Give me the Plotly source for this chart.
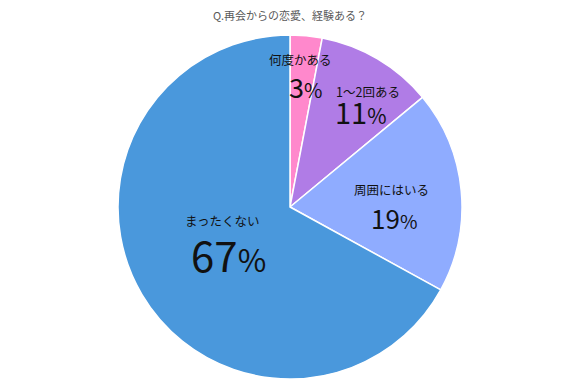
import plotly.graph_objects as go

categories = ["何度かある", "1～2回ある", "周囲にはいる", "まったくない"]
values = [3, 11, 19, 67]
colors = ["#FF88CC", "#B07CE6", "#8FACFF", "#4A98DC"]
title = "Q.再会からの恋愛、経験ある？"

# page has an 8px body margin; size the figure so it fits the 580x388 window
OFF = 8
W, H = 580 - OFF, 388 - OFF
T, B, L, R = 35 - OFF, 9, 0, 8

fig = go.Figure(go.Pie(
    labels=categories, values=values, sort=False, direction="clockwise", rotation=0,
    marker=dict(colors=colors, line=dict(color="white", width=1.5)),
    textinfo="none", hoverinfo="label+percent", showlegend=False,
))

def px(x, y):
    # reference window pixel -> paper coords
    x -= OFF
    y -= OFF
    return (x - L) / (W - L - R), (H - B - y) / (H - T - B)

name_pos = [(300, 59), (368, 92), (391, 189), (222, 220)]
pct_pos = [(305, 86), (361, 111), (394, 217), (228, 253)]
pct_size = [27, 29, 26, 42]
ann = []
for i, c in enumerate(categories):
    x, y = px(*name_pos[i])
    ann.append(dict(x=x, y=y, xref="paper", yref="paper", text=c, showarrow=False,
                    xanchor="center", yanchor="middle",
                    font=dict(size=12.5, color="#111111", family="Noto Sans CJK JP")))
    x, y = px(*pct_pos[i])
    s = pct_size[i]
    ann.append(dict(x=x, y=y, xref="paper", yref="paper",
                    text=f"{values[i]}<span style='font-size:{int(s*0.75)}px'>%</span>",
                    showarrow=False, xanchor="center", yanchor="middle",
                    font=dict(size=s, color="#111111", family="Noto Sans CJK JP")))

fig.update_layout(
    width=W, height=H,
    margin=dict(l=L, r=R, t=T, b=B),
    paper_bgcolor="white",
    title=dict(text=title, x=(290 - OFF) / W, xref="container", xanchor="center",
               y=1 - 8 / H, yanchor="middle", pad=dict(t=0, b=0),
               font=dict(size=11, color="#595959", family="Noto Sans CJK JP")),
    annotations=ann,
)
fig.write_html("out.html")
